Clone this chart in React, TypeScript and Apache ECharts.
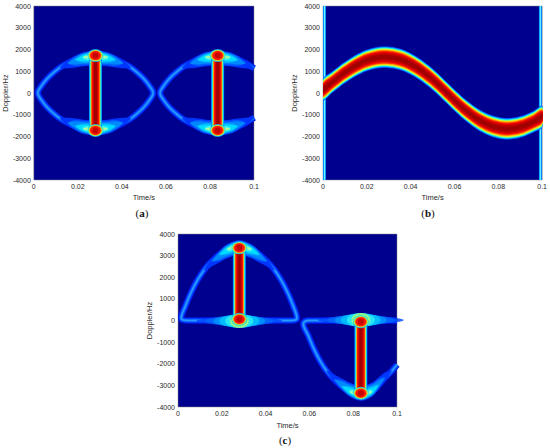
import React, { useEffect, useRef } from "react";
import * as echarts from "echarts";

// ---------- axis ticks ----------
const TIME_TICKS = [0, 0.02, 0.04, 0.06, 0.08, 0.1];
const DOPPLER_TICKS = [-4000, -3000, -2000, -1000, 0, 1000, 2000, 3000, 4000];

// ---------- panel (a) ----------
const A_EYE1_T = [0.0018, 0.0035, 0.006, 0.0088, 0.012, 0.0155, 0.019, 0.0225, 0.028, 0.0335, 0.037, 0.0405, 0.044, 0.0472, 0.05, 0.0525, 0.0542];
const A_EYE1_UP = [0, 330, 650, 920, 1180, 1380, 1530, 1650, 1710, 1650, 1530, 1380, 1180, 920, 650, 330, 0];
const A_EYE1_DOWN = [0, -330, -650, -920, -1180, -1380, -1530, -1650, -1710, -1650, -1530, -1380, -1180, -920, -650, -330, 0];
const A_EYE2_T = [0.0573, 0.059, 0.0615, 0.0643, 0.0675, 0.071, 0.0745, 0.078, 0.0835, 0.089, 0.0925, 0.096, 0.1];
const A_EYE2_UP = [0, 330, 650, 920, 1180, 1380, 1530, 1650, 1710, 1650, 1530, 1380, 1130];
const A_EYE2_DOWN = [0, -330, -650, -920, -1180, -1380, -1530, -1650, -1710, -1650, -1530, -1380, -1130];
const A_BAR_T = [0.028, 0.0835];
const A_BAR_TOP = [1550, 1550];
const A_BAR_BOTTOM = [-1550, -1550];
const A_BLOB_TOP = [1720, 1720];
const A_BLOB_BOTTOM = [-1720, -1720];

// ---------- panel (b) ----------
const B_T = [0, 0.004, 0.008, 0.012, 0.016, 0.02, 0.024, 0.028, 0.032, 0.036, 0.04, 0.044, 0.048, 0.052, 0.056, 0.06, 0.064, 0.068, 0.072, 0.076, 0.08, 0.084, 0.088, 0.092, 0.096, 0.1];
const B_DOPPLER = [150, 480, 800, 1080, 1320, 1500, 1610, 1650, 1620, 1520, 1340, 1100, 800, 450, 60, -330, -700, -1020, -1290, -1480, -1600, -1650, -1610, -1500, -1320, -1080];
const B_EDGE_T = [0.0007, 0.0992];
const B_EDGE_LOW = -4000;
const B_EDGE_HIGH = 4000;

// ---------- panel (c) ----------
const C_ARC1_T = [0.0015, 0.0035, 0.006, 0.0088, 0.012, 0.0155, 0.019, 0.0225, 0.028, 0.0335, 0.037, 0.0405, 0.044, 0.0472, 0.05, 0.0525, 0.0543];
const C_ARC1_F = [100, 700, 1300, 1850, 2350, 2750, 3050, 3300, 3470, 3300, 3050, 2750, 2350, 1850, 1300, 700, 100];
const C_ZERO1_T = [0.052, 0.045, 0.036, 0.028, 0.02, 0.011, 0.004];
const C_ZERO1_F = [0, 0, 0, 0, 0, 0, 0];
const C_ZERO2_T = [0.1, 0.092, 0.0835, 0.075, 0.0665, 0.0595];
const C_ZERO2_F = [0, 0, 0, 0, 0, 0];
const C_ARC2_T = [0.0572, 0.0595, 0.062, 0.0648, 0.068, 0.0715, 0.075, 0.0785, 0.0835, 0.0885, 0.0915, 0.0945, 0.0975, 0.1];
const C_ARC2_F = [-150, -700, -1300, -1850, -2350, -2750, -3050, -3300, -3470, -3300, -3000, -2650, -2350, -2050];
const C_BAR_T = [0.028, 0.0835];
const C_BAR_FROM = [150, -150];
const C_BAR_TO = [3250, -3250];
const C_BLOB_END = [3360, -3360];
const C_BLOB_BASE = [60, -60];
const C_BASE_GLOW_F = [-20, 20];

// ---------- styles ----------
const BG = "#00008F";
const TEXT = "#2a2a2a";
const FONT = "'Liberation Sans', Arial, sans-serif";
const ELLIPSE = "path://M0,10A10,10,0,1,1,20,10A10,10,0,1,1,0,10Z";

const ARC_LAYERS: [number, string][] = [
  [6.5, "#0018E8"],
  [4.8, "#0038FF"],
  [3.2, "#0868FF"],
  [1.5, "#2C98FF"],
];
const BAR_LAYERS: [number, string][] = [
  [13, "#0060FF"],
  [12, "#00D8FF"],
  [10, "#90FF70"],
  [9.2, "#FFD800"],
  [8.4, "#FF7000"],
  [7.4, "#FF1000"],
  [5, "#D00000"],
  [3, "#A00000"],
];
const BLOB_LAYERS: [number, number, string][] = [
  [16, 13, "#00C8FF"],
  [14.5, 11.5, "#90FF70"],
  [13, 10.5, "#FFD000"],
  [12, 9.5, "#FF6000"],
  [10.5, 9, "#FF0000"],
  [6, 6, "#B80000"],
];
// tapered glow along each arc near its extremum: point indices and half thickness (px)
const ARC_GLOW = [
  { idx: [4, 5, 6, 7, 8, 9, 10, 11, 12], half: [0.6, 4.0, 5.9, 7.0, 7.4, 7.0, 5.9, 4.0, 0.6], color: "#0034FF" },
  { idx: [5, 6, 7, 8, 9, 10, 11], half: [0.6, 4.8, 6.2, 6.7, 6.2, 4.8, 0.6], color: "#005CFF" },
  { idx: [5, 6, 7, 8, 9, 10, 11], half: [0.3, 3.6, 5.2, 5.9, 5.2, 3.6, 0.3], color: "#0088FF" },
  { idx: [6, 7, 8, 9, 10], half: [0.6, 4.2, 5.1, 4.2, 0.6], color: "#00B4FF" },
  { idx: [6, 7, 8, 9, 10], half: [0.3, 3.1, 4.2, 3.1, 0.3], color: "#00DCFF" },
  { idx: [7, 8, 9], half: [1.5, 3.4, 1.5], color: "#40F8EC" },
  { idx: [7, 8, 9], half: [0.5, 2.4, 0.5], color: "#A8FFA0" },
];
const HZ_GLOW: [number, number, string][] = [
  [86, 7.5, "#0040FF"],
  [68, 10, "#0068FF"],
  [52, 12, "#0098FF"],
  [40, 13.5, "#00C8FF"],
  [28, 14, "#30F0F0"],
  [19, 14, "#A8FF70"],
];
const B_BAND_LAYERS: [number, string][] = [
  [10.8, "#0040FF"],
  [10.2, "#0090FF"],
  [9.6, "#00E0FF"],
  [9.0, "#50FFB0"],
  [8.4, "#B0FF50"],
  [7.8, "#FFE000"],
  [7.1, "#FF9000"],
  [6.3, "#FF3000"],
  [5.2, "#E80000"],
  [3.8, "#C00000"],
  [2.2, "#A00000"],
];
const EDGE_LAYERS: [number, string][] = [
  [3, "#0060FF"],
  [2, "#00C8FF"],
  [0.9, "#80FFFF"],
];

const zip = (T: number[], F: number[]) => T.map((t, i) => [t, F[i]]);

let zCounter = 2;
function lineLayers(g: number, pts: number[][], layers: [number, string][], smooth = 0.4, cap = "butt") {
  return layers.map(([w, c]) => ({
    type: "line",
    xAxisIndex: g,
    yAxisIndex: g,
    data: pts,
    showSymbol: false,
    smooth,
    silent: true,
    clip: true,
    z: zCounter++,
    lineStyle: { width: w, color: c, cap, join: "round" },
  }));
}
function ellipses(g: number, pts: number[][], layers: [number, number, string][]) {
  return layers.map(([w, h, c]) => ({
    type: "scatter",
    xAxisIndex: g,
    yAxisIndex: g,
    data: pts,
    symbol: ELLIPSE,
    symbolSize: [w, h],
    silent: true,
    clip: true,
    z: zCounter++,
    itemStyle: { color: c },
  }));
}
// inward: +1 for upper arcs (glow leans toward 0 Hz, i.e. down on screen), -1 for lower arcs
function arcGlow(g: number, pts: number[][], inward: number) {
  return {
    type: "custom",
    coordinateSystem: "cartesian2d",
    xAxisIndex: g,
    yAxisIndex: g,
    data: [pts[8]],
    clip: true,
    silent: true,
    z: zCounter++,
    renderItem: (_params: any, api: any) => {
      const P = pts.map((p) => (p ? api.coord(p) : null));
      const children: any[] = [];
      ARC_GLOW.forEach((L) => {
        const top: number[][] = [];
        const bot: number[][] = [];
        L.idx.forEach((i, k) => {
          const p = P[i];
          if (!p) return;
          const h = L.half[k];
          const s = inward * 0.3 * h;
          top.push([p[0], p[1] - h + s]);
          bot.push([p[0], p[1] + h + s]);
        });
        children.push({
          type: "polygon",
          shape: { points: [...top, ...bot.reverse()], smooth: 0.35 },
          style: { fill: L.color },
        });
      });
      return { type: "group", children };
    },
  };
}
function bars(g: number, T: number[], from: number[], to: number[]) {
  const out: any[] = [];
  T.forEach((t, i) => {
    out.push(...lineLayers(g, [[t, from[i]], [t, to[i]]], BAR_LAYERS, 0, "round"));
  });
  return out;
}

function xAxis(g: number, gap: number) {
  return {
    type: "value",
    gridIndex: g,
    min: TIME_TICKS[0],
    max: TIME_TICKS[TIME_TICKS.length - 1],
    interval: TIME_TICKS[1] - TIME_TICKS[0],
    name: "Time/s",
    nameLocation: "middle",
    nameGap: gap,
    nameTextStyle: { fontFamily: FONT, fontSize: 7.5, color: TEXT },
    axisLine: { show: false },
    axisTick: { show: false },
    splitLine: { show: false },
    axisLabel: {
      fontFamily: FONT,
      fontSize: 7,
      color: TEXT,
      margin: 3,
      formatter: (v: number) => String(Math.round(v * 100) / 100),
    },
  };
}
function yAxis(g: number, gap: number) {
  return {
    type: "value",
    gridIndex: g,
    min: DOPPLER_TICKS[0],
    max: DOPPLER_TICKS[DOPPLER_TICKS.length - 1],
    interval: DOPPLER_TICKS[1] - DOPPLER_TICKS[0],
    name: "Doppler/Hz",
    nameLocation: "middle",
    nameGap: gap,
    nameTextStyle: { fontFamily: FONT, fontSize: 7.5, color: TEXT },
    axisLine: { show: false },
    axisTick: { show: false },
    splitLine: { show: false },
    axisLabel: { fontFamily: FONT, fontSize: 7, color: TEXT, margin: 3, formatter: (v: number) => String(v) },
  };
}

function caption(letter: string, x: number, y: number) {
  return {
    type: "text",
    x,
    y,
    silent: true,
    style: {
      text: "{p|(}{b|" + letter + "}{p|)}",
      rich: {
        p: { font: "11px 'Liberation Serif', serif", fill: "#111" },
        b: { font: "bold 11px 'Liberation Serif', serif", fill: "#111" },
      },
      align: "center",
      verticalAlign: "middle",
      textAlign: "center",
      textVerticalAlign: "middle",
    },
  };
}

function buildOption() {
  zCounter = 2;
  const series: any[] = [];

  // ----- (a) -----
  const up1 = zip(A_EYE1_T, A_EYE1_UP);
  const dn1 = zip(A_EYE1_T, A_EYE1_DOWN);
  const loop1 = [...up1.slice(8), ...dn1.slice().reverse().slice(1), ...up1.slice(1, 9)];
  const up2 = zip(A_EYE2_T, A_EYE2_UP);
  const dn2 = zip(A_EYE2_T, A_EYE2_DOWN);
  const open2 = [...up2.slice().reverse(), ...dn2.slice(1)];
  series.push(...lineLayers(0, loop1, ARC_LAYERS));
  series.push(...lineLayers(0, open2, ARC_LAYERS));
  series.push(arcGlow(0, up1, 1), arcGlow(0, dn1, -1), arcGlow(0, up2, 1), arcGlow(0, dn2, -1));
  series.push(...bars(0, A_BAR_T, A_BAR_BOTTOM, A_BAR_TOP));
  series.push(...ellipses(0, [...zip(A_BAR_T, A_BLOB_TOP), ...zip(A_BAR_T, A_BLOB_BOTTOM)], BLOB_LAYERS));

  // ----- (b) -----
  B_EDGE_T.forEach((t) => {
    series.push(...lineLayers(1, [[t, B_EDGE_LOW], [t, B_EDGE_HIGH]], EDGE_LAYERS, 0));
  });
  series.push({
    type: "custom",
    coordinateSystem: "cartesian2d",
    xAxisIndex: 1,
    yAxisIndex: 1,
    data: [[B_T[0], B_DOPPLER[0]]],
    clip: true,
    silent: true,
    z: zCounter++,
    renderItem: (_params: any, api: any) => {
      const pts = B_T.map((t, i) => api.coord([t, B_DOPPLER[i]]));
      return {
        type: "group",
        children: B_BAND_LAYERS.map(([h, color]) => ({
          type: "polygon",
          shape: {
            points: [
              ...pts.map((p: number[]) => [p[0], p[1] - h]),
              ...pts.slice().reverse().map((p: number[]) => [p[0], p[1] + h]),
            ],
            smooth: 0.3,
          },
          style: { fill: color },
        })),
      };
    },
  });

  // ----- (c) -----
  const arc1 = zip(C_ARC1_T, C_ARC1_F);
  const zero1 = zip(C_ZERO1_T, C_ZERO1_F);
  const loopC1 = [...arc1.slice(8), ...zero1, ...arc1.slice(0, 9)];
  const arc2 = zip(C_ARC2_T, C_ARC2_F);
  const zero2 = zip(C_ZERO2_T, C_ZERO2_F);
  const openC2 = [...zero2, ...arc2];
  series.push(...lineLayers(2, loopC1, ARC_LAYERS));
  series.push(...lineLayers(2, openC2, ARC_LAYERS));
  series.push(arcGlow(2, arc1, 1), arcGlow(2, arc2, -1));
  series.push(...ellipses(2, zip(C_BAR_T, C_BASE_GLOW_F), HZ_GLOW));
  series.push(...bars(2, C_BAR_T, C_BAR_FROM, C_BAR_TO));
  series.push(...ellipses(2, [...zip(C_BAR_T, C_BLOB_END), ...zip(C_BAR_T, C_BLOB_BASE)], BLOB_LAYERS));

  const gridBase = { show: true, backgroundColor: BG, borderColor: "#8a8a8a", borderWidth: 0.5, containLabel: false };
  return {
    animation: false,
    grid: [
      { ...gridBase, left: 33, top: 6, width: 221, height: 174 },
      { ...gridBase, left: 323, top: 6, width: 220, height: 174 },
      { ...gridBase, left: 178, top: 234, width: 219, height: 173 },
    ],
    xAxis: [xAxis(0, 13.5), xAxis(1, 13.5), xAxis(2, 14)],
    yAxis: [yAxis(0, 22), yAxis(1, 24), yAxis(2, 22)],
    series,
    graphic: [caption("a", 142, 213), caption("b", 428, 213), caption("c", 285, 440)],
  };
}

export default function App() {
  const ref = useRef<HTMLDivElement>(null);
  useEffect(() => {
    if (!ref.current) return;
    const chart = echarts.init(ref.current, undefined, { renderer: "svg" });
    chart.setOption(buildOption() as any);
    return () => chart.dispose();
  }, []);
  return (
    <div
      ref={ref}
      style={{ position: "fixed", left: 0, top: 0, width: 550, height: 448, background: "#fff" }}
    />
  );
}
